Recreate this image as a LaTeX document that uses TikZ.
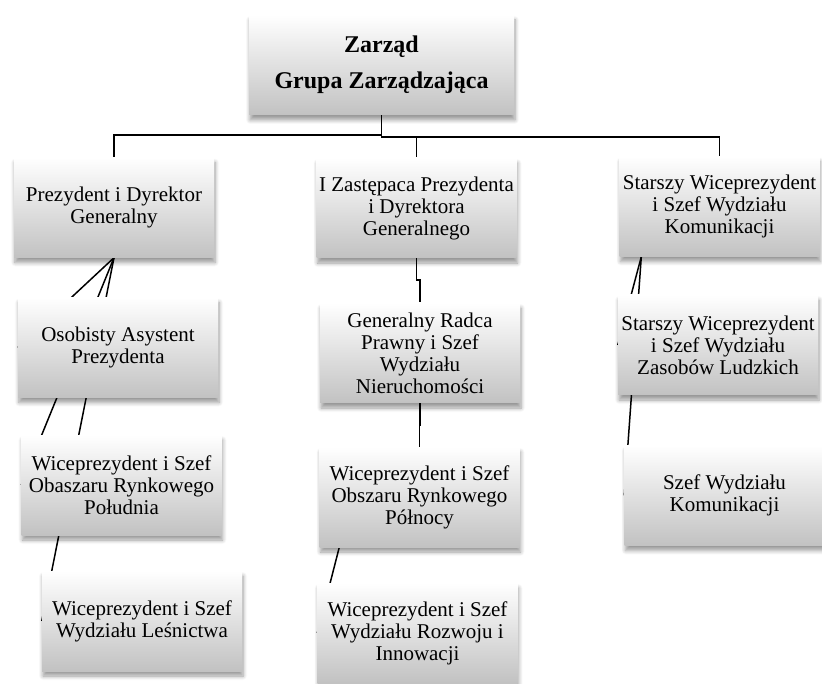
\documentclass[tikz,border=0pt]{standalone}
\usepackage{fontspec}
\setmainfont{Liberation Serif}
\usetikzlibrary{backgrounds,shadows.blur}

\tikzset{
  orgbox/.style={minimum width=200pt,minimum height=100pt,align=center,inner sep=2pt,
    top color=white,bottom color=black!24,
    blur shadow={shadow xshift=1pt,shadow yshift=-5pt,shadow blur radius=4pt,shadow blur steps=6},
    font=\fontsize{21}{22}\selectfont},
  topbox/.style={orgbox,minimum width=265pt,font=\bfseries\fontsize{24}{36}\selectfont},
  link/.style={line width=1.5pt,black}
}

\begin{document}
\begin{tikzpicture}[x=1pt,y=-1pt,line cap=round,line join=round]
\useasboundingbox (0,0) rectangle (822,684);

% top
\node[topbox] (board) at (381.5,65) {Zarząd\\Grupa Zarządzająca};

% left column
\node[orgbox] (pres)  at (114,207.5) {Prezydent i Dyrektor\\Generalny};
\node[orgbox] (asyst) at (118,347.5) {Osobisty Asystent\\Prezydenta};
\node[orgbox] (south) at (121.5,485) {Wiceprezydent i Szef\\Obaszaru Rynkowego\\Południa};
\node[orgbox] (forest) at (142,621) {Wiceprezydent i Szef\\Wydziału Leśnictwa};

% middle column
\node[orgbox] (deputy) at (416.5,208) {I Zastępaca Prezydenta\\i Dyrektora\\Generalnego};
\node[orgbox] (legal)  at (420,353) {Generalny Radca\\Prawny i Szef\\Wydziału\\Nieruchomości};
\node[orgbox] (north)  at (419.5,497) {Wiceprezydent i Szef\\Obszaru Rynkowego\\Północy};
\node[orgbox] (innov)  at (417.5,633) {Wiceprezydent i Szef\\Wydziału Rozwoju i\\Innowacji};

% right column
\node[orgbox] (comm)  at (719.5,206.5) {Starszy Wiceprezydent\\i Szef Wydziału\\Komunikacji};
\node[orgbox] (hr)    at (718,345) {Starszy Wiceprezydent\\i Szef Wydziału\\Zasobów Ludzkich};
\node[orgbox] (commhead) at (724.5,495.5) {Szef Wydziału\\Komunikacji};

\begin{pgfonlayer}{background}
    \draw[link] (board.south) -- ++(0,20) -| (pres.north);
    \draw[link] (board.south) -- ++(0,22) -| (deputy.north);
    \draw[link] (board.south) -- ++(0,22) -| (comm.north);
    \foreach \n in {asyst,south,forest}
        \draw[link] (pres.south) -- (\n.west);
    \draw[link] (deputy.south) -- ++(0,22) -| (legal.north);
    \draw[link] (legal.south) -- ++(0,22) -| (north.north);
    \draw[link] ([xshift=20pt]north.south west) -- (innov.west);
    \foreach \n in {hr,commhead}
        \draw[link] ([xshift=22pt]comm.south west) -- (\n.west);
\end{pgfonlayer}

\end{tikzpicture}
\end{document}
